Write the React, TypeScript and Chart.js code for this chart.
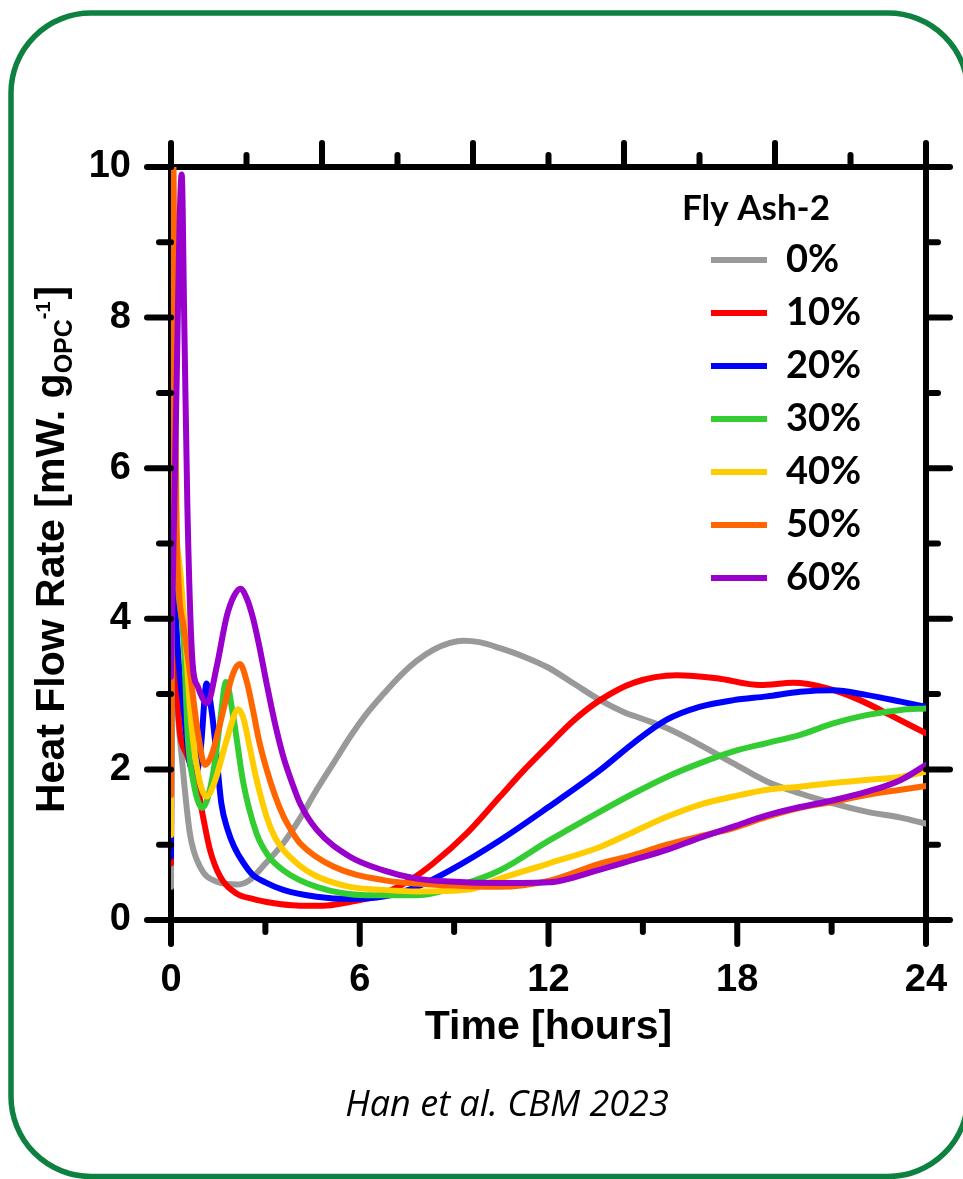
import React, { useEffect, useRef } from 'react';
import { Chart, registerables } from 'chart.js';

Chart.register(...registerables);

// ---------------- data ----------------
const SERIES_LABELS = ['0%', '10%', '20%', '30%', '40%', '50%', '60%'];
const SERIES_COLORS = ['#999999', '#FF0000', '#0000FF', '#33CC33', '#FFCC00', '#FF6600', '#9900CC'];
const LEGEND_TITLE = 'Fly Ash-2';
const X_TITLE = 'Time [hours]';
const Y_TITLE_MAIN = 'Heat Flow Rate [mW. g';
const Y_TITLE_SUB = 'OPC';
const Y_TITLE_SUP = '-1';
const Y_TITLE_END = ']';
const CITATION = 'Han et al. CBM 2023';

// 0 %
const T_0 = [0, 0.04, 0.1, 0.2, 0.34, 0.6, 0.92, 1.45, 2.1, 2.5, 3.0, 3.57, 4.1, 4.63, 5.16, 5.69, 6.22, 6.75, 7.3, 7.81, 8.35, 8.87, 9.3, 9.8, 10.46, 11.2, 12, 12.8, 13.64, 14.4, 15.0, 15.76, 16.8, 17.88, 18.94, 20, 21.05, 22.1, 23.2, 24];
const V_0 = [0.44, 5.5, 4.2, 2.9, 2.17, 1.15, 0.71, 0.51, 0.47, 0.53, 0.75, 1.02, 1.35, 1.73, 2.08, 2.43, 2.74, 3.0, 3.25, 3.44, 3.59, 3.68, 3.71, 3.69, 3.61, 3.5, 3.35, 3.14, 2.92, 2.76, 2.67, 2.55, 2.33, 2.08, 1.84, 1.68, 1.55, 1.44, 1.36, 1.28];
// 10 %
const T_10 = [0, 0.04, 0.1, 0.17, 0.24, 0.5, 0.82, 1.02, 1.24, 1.56, 2.09, 2.6, 3.04, 3.5, 4.1, 4.84, 5.69, 6.2, 6.75, 7.6, 8.33, 9.4, 10.46, 11.2, 12, 12.8, 13.64, 14.7, 16.08, 17.35, 18.73, 19.78, 20.84, 21.9, 22.96, 24];
const V_10 = [0.75, 6.0, 4.8, 3.5, 2.7, 2.2, 1.82, 1.37, 0.93, 0.58, 0.35, 0.28, 0.24, 0.21, 0.19, 0.19, 0.24, 0.28, 0.35, 0.53, 0.75, 1.15, 1.64, 1.98, 2.32, 2.65, 2.92, 3.15, 3.25, 3.21, 3.12, 3.15, 3.08, 2.92, 2.7, 2.48];
// 20 %
const T_20 = [0, 0.04, 0.12, 0.25, 0.39, 0.6, 0.8, 0.95, 1.13, 1.3, 1.42, 1.6, 1.8, 2.0, 2.3, 2.6, 3.0, 3.57, 4.63, 5.69, 6.75, 7.81, 8.87, 10.46, 12, 13.64, 14.7, 15.76, 16.8, 17.88, 18.94, 20, 21.05, 22.1, 23.2, 24];
const V_20 = [0.84, 6.5, 4.5, 3.4, 2.83, 2.08, 1.95, 2.3, 3.14, 2.75, 2.3, 1.55, 1.2, 0.98, 0.76, 0.6, 0.5, 0.4, 0.31, 0.28, 0.31, 0.44, 0.66, 1.06, 1.5, 1.99, 2.35, 2.66, 2.83, 2.92, 2.97, 3.03, 3.05, 2.99, 2.9, 2.83];
// 30 %
const T_30 = [0, 0.04, 0.12, 0.25, 0.4, 0.54, 0.7, 0.99, 1.15, 1.34, 1.55, 1.75, 1.98, 2.3, 2.72, 3.1, 3.57, 4.63, 6.22, 7.81, 9.4, 10.46, 12, 13.64, 14.7, 15.76, 16.8, 17.88, 18.94, 20, 21.05, 22.1, 23.2, 24];
const V_30 = [1.4, 6.5, 5.0, 4.3, 3.72, 2.39, 1.86, 1.49, 1.6, 1.95, 2.6, 3.16, 2.7, 1.82, 1.15, 0.85, 0.66, 0.44, 0.33, 0.33, 0.49, 0.66, 1.05, 1.44, 1.68, 1.9, 2.08, 2.24, 2.35, 2.46, 2.61, 2.72, 2.79, 2.81];
// 40 %
const T_40 = [0, 0.04, 0.12, 0.3, 0.45, 0.6, 0.82, 1.13, 1.4, 1.77, 2.14, 2.3, 2.5, 2.7, 3.04, 3.3, 3.57, 4.1, 4.63, 5.69, 6.75, 7.81, 9.4, 10.46, 12, 13.64, 14.7, 15.76, 16.8, 17.88, 18.94, 20, 21.05, 22.1, 23.2, 24];
const V_40 = [1.13, 7.0, 5.5, 4.6, 3.8, 2.83, 2.04, 1.64, 1.85, 2.39, 2.8, 2.68, 2.3, 1.9, 1.37, 1.1, 0.93, 0.72, 0.58, 0.44, 0.4, 0.38, 0.4, 0.55, 0.75, 0.97, 1.17, 1.37, 1.53, 1.64, 1.73, 1.77, 1.82, 1.86, 1.9, 1.97];
// 50 %
const T_50 = [0, 0.03, 0.07, 0.12, 0.17, 0.25, 0.4, 0.6, 0.85, 1.08, 1.3, 1.56, 1.98, 2.19, 2.4, 2.6, 2.8, 3.04, 3.3, 3.57, 3.85, 4.1, 5.16, 6.75, 8.87, 10.46, 12, 13.64, 14.7, 15.76, 16.8, 17.88, 18.94, 20, 21.05, 22.1, 23.2, 24];
const V_50 = [1.66, 9.5, 10.4, 8.0, 5.5, 4.4, 3.9, 3.3, 2.5, 2.06, 2.2, 2.61, 3.28, 3.4, 3.18, 2.8, 2.38, 2.0, 1.66, 1.38, 1.17, 1.02, 0.71, 0.53, 0.46, 0.44, 0.52, 0.75, 0.86, 1.0, 1.11, 1.22, 1.37, 1.49, 1.57, 1.66, 1.73, 1.78];
// 60 %
const T_60 = [0, 0.15, 0.34, 0.42, 0.52, 0.68, 0.85, 1.15, 1.45, 1.77, 2.0, 2.21, 2.4, 2.6, 2.8, 3.04, 3.3, 3.57, 3.85, 4.1, 4.63, 5.69, 6.75, 7.81, 8.87, 10.46, 12, 13.64, 14.7, 15.76, 16.8, 17.88, 18.94, 20, 21.05, 22.1, 23.2, 24];
const V_60 = [3.23, 6.5, 9.9, 8.0, 5.5, 3.45, 3.1, 2.88, 3.36, 4.03, 4.3, 4.4, 4.28, 4.02, 3.65, 3.14, 2.62, 2.17, 1.82, 1.55, 1.2, 0.84, 0.66, 0.55, 0.51, 0.49, 0.5, 0.67, 0.8, 0.93, 1.09, 1.24, 1.39, 1.5, 1.59, 1.7, 1.86, 2.06];

const SERIES_T = [T_0, T_10, T_20, T_30, T_40, T_50, T_60];
const SERIES_V = [V_0, V_10, V_20, V_30, V_40, V_50, V_60];

// tick marks (values)
const X_MAJOR = [0, 6, 12, 18, 24];
const X_MINOR = [3, 9, 15, 21];
const XTOP_MAJOR = [0, 4.8, 9.6, 14.4, 19.2, 24];
const XTOP_MINOR = [2.4, 7.2, 12, 16.8, 21.6];
const Y_MAJOR = [0, 2, 4, 6, 8, 10];
const Y_MINOR = [1, 3, 5, 7, 9];

// ---------------- styling ----------------
const AX_FONT = '"Liberation Sans", Arial, sans-serif';
const LEG_FONT = 'Lato, "Open Sans", sans-serif';
const GREEN = '#0E8040';

const decorPlugin = {
  id: 'decor',
  afterLayout(chart: any) {
    const lg = chart.legend;
    if (!lg) return;
    lg.left = 696;
    lg.top = 226;
    lg.width = 254;
    lg.height = 400;
    lg.right = lg.left + lg.width;
    lg.bottom = lg.top + lg.height;
  },
  beforeDraw(chart: any) {
    const ctx = chart.ctx;
    ctx.save();
    ctx.strokeStyle = GREEN;
    ctx.lineWidth = 5.5;
    ctx.beginPath();
    ctx.roundRect(11, 13, 957, 1163.5, 80);
    ctx.stroke();
    ctx.restore();
  },
  afterDraw(chart: any) {
    const ctx = chart.ctx;
    const area = chart.chartArea;
    const sx = chart.scales.x;
    const sy = chart.scales.y;
    const major = 24;
    const minor = 12;
    ctx.save();
    ctx.strokeStyle = '#000';
    ctx.lineWidth = 6;
    ctx.lineCap = 'round';
    const seg = (x1: number, y1: number, x2: number, y2: number) => {
      ctx.beginPath();
      ctx.moveTo(x1, y1);
      ctx.lineTo(x2, y2);
      ctx.stroke();
    };
    X_MAJOR.forEach((v) => { const p = sx.getPixelForValue(v); seg(p, area.bottom, p, area.bottom + major); });
    X_MINOR.forEach((v) => { const p = sx.getPixelForValue(v); seg(p, area.bottom, p, area.bottom + minor); });
    XTOP_MAJOR.forEach((v) => { const p = sx.getPixelForValue(v); seg(p, area.top, p, area.top - major); });
    XTOP_MINOR.forEach((v) => { const p = sx.getPixelForValue(v); seg(p, area.top, p, area.top - minor); });
    Y_MAJOR.forEach((v) => {
      const p = sy.getPixelForValue(v);
      seg(area.left, p, area.left - major, p);
      seg(area.right, p, area.right + major, p);
    });
    Y_MINOR.forEach((v) => {
      const p = sy.getPixelForValue(v);
      seg(area.left, p, area.left - minor, p);
      seg(area.right, p, area.right + minor, p);
    });
    ctx.restore();

    // y axis title with subscript / superscript
    ctx.save();
    ctx.fillStyle = '#000';
    ctx.textAlign = 'left';
    ctx.textBaseline = 'alphabetic';
    ctx.translate(64, 813);
    ctx.rotate(-Math.PI / 2);
    let cx = 0;
    ctx.font = `bold 41px ${AX_FONT}`;
    ctx.fillText(Y_TITLE_MAIN, cx, 0);
    cx += ctx.measureText(Y_TITLE_MAIN).width;
    ctx.font = `bold 25px ${AX_FONT}`;
    ctx.fillText(Y_TITLE_SUB, cx, 8);
    cx += ctx.measureText(Y_TITLE_SUB).width;
    ctx.font = `bold 20px ${AX_FONT}`;
    ctx.fillText(Y_TITLE_SUP, cx, -14);
    cx += ctx.measureText(Y_TITLE_SUP).width + 2;
    ctx.font = `bold 41px ${AX_FONT}`;
    ctx.fillText(Y_TITLE_END, cx, 0);
    ctx.restore();

    // legend title
    ctx.save();
    ctx.fillStyle = '#000';
    ctx.textAlign = 'left';
    ctx.textBaseline = 'alphabetic';
    ctx.font = `bold 35px ${LEG_FONT}`;
    ctx.fillText(LEGEND_TITLE, 682, 220);
    ctx.restore();

    // citation
    ctx.save();
    ctx.fillStyle = '#000';
    ctx.textAlign = 'center';
    ctx.textBaseline = 'alphabetic';
    ctx.font = 'italic 36px "Open Sans", Lato, sans-serif';
    ctx.fillText(CITATION, 507, 1116);
    ctx.restore();
  },
};

export default function App() {
  const ref = useRef<HTMLCanvasElement>(null);

  useEffect(() => {
    if (!ref.current) return;
    const n = SERIES_LABELS.length;
    const datasets = SERIES_LABELS.map((label, i) => ({
      label,
      data: SERIES_T[i].map((t, k) => ({ x: t, y: SERIES_V[i][k] })),
      borderColor: SERIES_COLORS[i],
      backgroundColor: SERIES_COLORS[i],
      borderWidth: 6,
      pointRadius: 0,
      pointHoverRadius: 0,
      cubicInterpolationMode: 'monotone' as const,
      borderCapStyle: 'round' as const,
      borderJoinStyle: 'round' as const,
      fill: false,
      order: n - i,
    }));

    const border = { display: true, width: 6, color: '#000' };
    const grid = { display: false, drawTicks: false, tickLength: 0, lineWidth: 6 };
    const fixH = (h: number) => (s: any) => { s.height = h; s.paddingLeft = 0; s.paddingRight = 0; };
    const fixW = (w: number) => (s: any) => { s.width = w; s.paddingTop = 0; s.paddingBottom = 0; };

    const chart = new Chart(ref.current, {
      type: 'line',
      data: { datasets },
      options: {
        responsive: false,
        animation: false,
        devicePixelRatio: 1,
        layout: { padding: 0, autoPadding: false },
        scales: {
          x: {
            type: 'linear',
            position: 'bottom',
            min: 0,
            max: 24,
            ticks: {
              stepSize: 6,
              color: '#000',
              padding: 38,
              maxRotation: 0,
              autoSkip: false,
              font: { family: AX_FONT, size: 38, weight: 'bold' },
            },
            grid,
            border,
            title: {
              display: true,
              text: X_TITLE,
              color: '#000',
              font: { family: AX_FONT, size: 41, weight: 'bold' },
              padding: { top: 0, bottom: 127 },
            },
            afterFit: fixH(259),
          },
          xTop: {
            type: 'linear',
            position: 'top',
            min: 0,
            max: 24,
            ticks: { display: false },
            grid,
            border,
            afterFit: fixH(167),
          },
          y: {
            type: 'linear',
            position: 'left',
            min: 0,
            max: 10,
            ticks: {
              stepSize: 2,
              color: '#000',
              padding: 40,
              font: { family: AX_FONT, size: 38, weight: 'bold' },
            },
            grid,
            border,
            afterFit: fixW(171),
          },
          yRight: {
            type: 'linear',
            position: 'right',
            min: 0,
            max: 10,
            ticks: { display: false },
            grid,
            border,
            afterFit: fixW(37),
          },
        },
        plugins: {
          legend: {
            display: true,
            position: 'chartArea',
            align: 'start',
            labels: {
              usePointStyle: true,
              pointStyle: 'line',
              pointStyleWidth: 56,
              padding: 15,
              color: '#000',
              font: { family: LEG_FONT, size: 38, weight: 'bold' },
              sort: (a: any, b: any) => a.datasetIndex - b.datasetIndex,
            },
          },
          tooltip: { enabled: false },
          title: { display: false },
        },
      } as any,
      plugins: [decorPlugin],
    });
    return () => chart.destroy();
  }, []);

  return (
    <div style={{ position: 'absolute', left: 0, top: 0, width: 963, height: 1179, background: '#fff' }}>
      <canvas ref={ref} width={963} height={1179} style={{ display: 'block', width: 963, height: 1179 }} />
    </div>
  );
}
